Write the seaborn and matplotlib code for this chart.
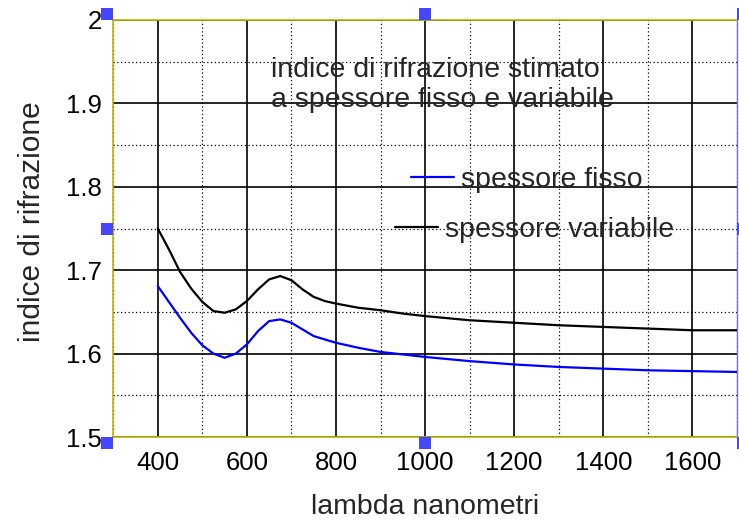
import numpy as np
import pandas as pd
import matplotlib
matplotlib.use("Agg")
import matplotlib.pyplot as plt
import matplotlib.transforms as mtransforms
from matplotlib.lines import Line2D
from matplotlib.ticker import MultipleLocator
import seaborn as sns

# Wavelength samples (nm)
wavelength = [400, 425, 450, 475, 500, 525, 550, 575, 600, 625, 650, 675, 700,
              725, 750, 775, 800, 850, 900, 950, 1000, 1100, 1200, 1300, 1400,
              1500, 1600, 1700]

# Estimated refractive index, fixed thickness
n_fisso = [1.681, 1.662, 1.643, 1.625, 1.610, 1.600, 1.595, 1.600, 1.611, 1.627,
           1.639, 1.641, 1.637, 1.629, 1.621, 1.617, 1.613, 1.607, 1.602, 1.599,
           1.596, 1.591, 1.587, 1.584, 1.582, 1.580, 1.579, 1.578]

# Estimated refractive index, variable thickness
n_variabile = [1.750, 1.725, 1.698, 1.678, 1.662, 1.651, 1.649, 1.653, 1.663, 1.677,
               1.689, 1.693, 1.688, 1.677, 1.668, 1.663, 1.660, 1.655, 1.652, 1.648,
               1.645, 1.640, 1.637, 1.634, 1.632, 1.630, 1.628, 1.628]

x_ticks = [400, 600, 800, 1000, 1200, 1400, 1600]
y_ticks = [1.5, 1.6, 1.7, 1.8, 1.9, 2.0]
y_ticklabels = ["1.5", "1.6", "1.7", "1.8", "1.9", "2"]

sns.set_style("white")
plt.rcParams["font.family"] = ["Liberation Sans", "DejaVu Sans"]

df = pd.DataFrame({
    "lambda": wavelength * 2,
    "n": n_fisso + n_variabile,
    "serie": ["spessore fisso"] * len(wavelength) + ["spessore variabile"] * len(wavelength),
})

fig = plt.figure(figsize=(7.39, 5.22), dpi=100)
ax = fig.add_axes([0.1532, 0.1628, 0.8440, 0.7989])

sns.lineplot(data=df, x="lambda", y="n", hue="serie",
             palette={"spessore fisso": "#0000ff", "spessore variabile": "#000000"},
             linewidth=1.6, legend=False, ax=ax, zorder=3)

ax.set_xlim(300, 1700)
ax.set_ylim(1.5, 2.0)
ax.set_xticks(x_ticks)
ax.set_yticks(y_ticks)
ax.set_yticklabels(y_ticklabels)
ax.xaxis.set_minor_locator(MultipleLocator(100))
ax.yaxis.set_minor_locator(MultipleLocator(0.05))

ax.grid(which="major", color="black", linestyle="-", linewidth=1.2, zorder=1)
ax.grid(which="minor", color="black", linestyle=(0, (1, 2)), linewidth=0.9, zorder=1)
ax.set_axisbelow(True)

ax.tick_params(which="both", direction="in", labelsize=18.5, colors="black")
ax.tick_params(axis="x", pad=10)
ax.tick_params(axis="y", pad=8)
ax.tick_params(which="major", length=4)
ax.tick_params(which="minor", length=3)

ax.set_xlabel("lambda nanometri", fontsize=20.5, labelpad=14)
ax.set_ylabel("indice di rifrazione", fontsize=21.5)
ax.yaxis.set_label_coords(-0.108, 0.516)

for side in ["top", "bottom", "left"]:
    ax.spines[side].set_color("#b8b800")
    ax.spines[side].set_linestyle((0, (1, 1)))
    ax.spines[side].set_linewidth(1.2)
ax.spines["right"].set_color("#7070ff")
ax.spines["right"].set_linestyle((0, (1, 1)))
ax.spines["right"].set_linewidth(1.0)

ax.text(654, 1.932, "indice di rifrazione stimato",
        fontsize=20.5, ha="left", va="baseline", zorder=4)
ax.text(654, 1.896, "a spessore fisso e variabile",
        fontsize=20.5, ha="left", va="baseline", zorder=4)

# Two separate key entries, offset as on the figure
h1 = Line2D([], [], color="#0000ff", linewidth=1.6)
h2 = Line2D([], [], color="#000000", linewidth=1.6)
leg1 = ax.legend([h1], ["spessore fisso"], loc="center left",
                 bbox_to_anchor=(0.478, 0.617), frameon=False, fontsize=20.5,
                 handlelength=1.5, handletextpad=0.25, borderpad=0, borderaxespad=0)
ax.add_artist(leg1)
ax.legend([h2], ["spessore variabile"], loc="center left",
          bbox_to_anchor=(0.452, 0.497), frameon=False, fontsize=20.5,
          handlelength=1.5, handletextpad=0.25, borderpad=0, borderaxespad=0)

# Selection handles around the axes box
handle_pos = [(0, 1, -6, 6), (0.5, 1, 0, 6), (1, 1, 6, 6),
              (0, 0.5, -6, 0), (1, 0.5, 6, 0),
              (0, 0, -6, -6), (0.5, 0, 0, -6), (1, 0, 6, -6)]
for hx, hy, dx, dy in handle_pos:
    tr = mtransforms.offset_copy(ax.transAxes, fig=fig, x=dx, y=dy, units="dots")
    ax.plot([hx], [hy], marker="s", markersize=9, color="#4646ff",
            markeredgewidth=0, transform=tr, clip_on=False, zorder=6)

fig.savefig("out.png", dpi=100)
